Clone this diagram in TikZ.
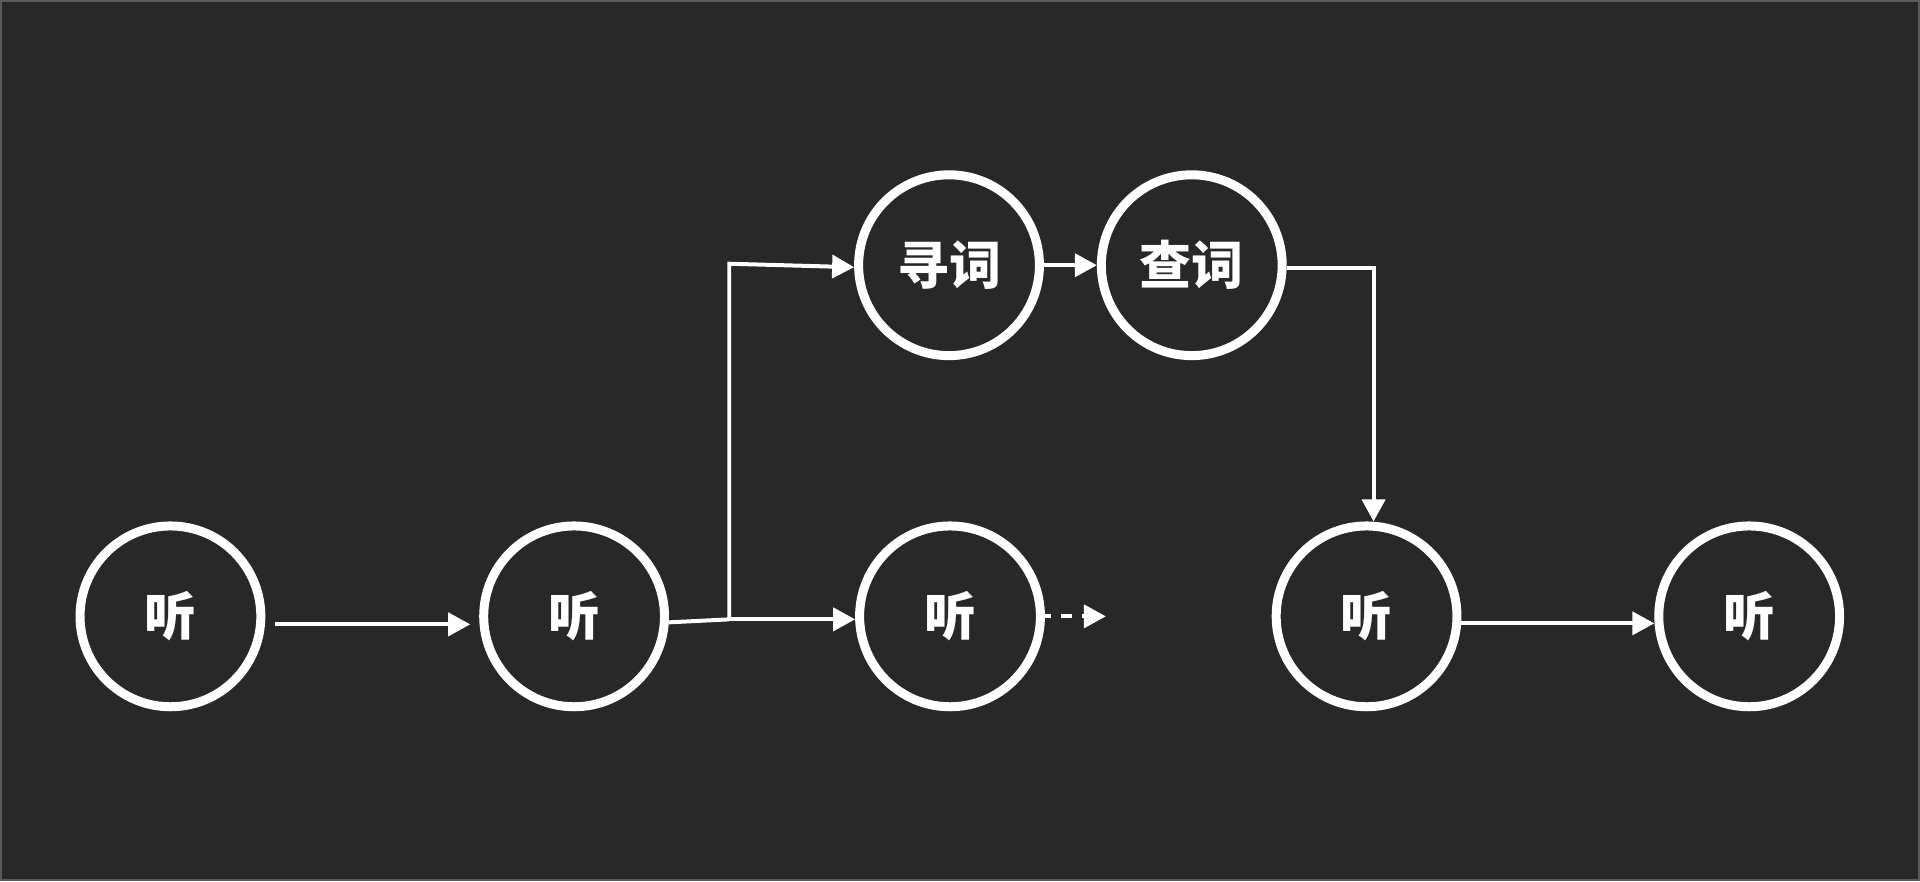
\documentclass[tikz,border=0pt]{standalone}
\usepackage{fontspec}
\newfontfamily\cjk{Noto Sans CJK SC}
\usetikzlibrary{arrows.meta}
\definecolor{bg}{HTML}{282828}
\definecolor{frame}{HTML}{5A5A5A}
\tikzset{
  state/.style={circle, draw=white, line width=9pt, minimum size=181pt, inner sep=0pt,
    text=white, font=\cjk\bfseries\fontsize{52}{60}\selectfont},
  conn/.style={draw=white, line width=4pt},
  arr/.style={conn, -{Triangle[length=22pt,width=23pt]}},
  dotted arr/.style={arr, dash pattern=on 11pt off 10pt, dash phase=5pt}
}
\begin{document}
\begin{tikzpicture}[x=1pt,y=-1pt]
  \fill[bg] (0,0) rectangle (1920,880);
  \draw[frame, line width=2pt] (0,0) rectangle (1920,880);
  \useasboundingbox (0,0) rectangle (1920,880);

  \node[state] (l1) at (169.6,616) {听};
  \node[state] (l2) at (573.7,616) {听};
  \node[state] (l3) at (950,616) {听};
  \node[state] (l4) at (1367,616) {听};
  \node[state] (l5) at (1750,616) {听};
  \node[state] (s1) at (949,264.5) {寻词};
  \node[state] (s2) at (1192,264.5) {查词};

  \coordinate (j) at (729,619);
  \coordinate (jt) at (729,263);
  \coordinate (dend) at (1106,616);

  \draw[arr] ([xshift=10pt,yshift=-8pt]l1.east) -- ([xshift=-9pt,yshift=-8pt]l2.west);
  \draw[conn] ([yshift=-6pt]l2.east) -- (j);
  \draw[arr] (j) -- ([yshift=-3pt]l3.west);
  \draw[arr] (j) -- (jt) -- ([yshift=-2pt]s1.west);
  \draw[arr] (s1.east) -- (s2.west);
  \draw[arr] ([yshift=-3pt]s2.east) -| ([xshift=7pt]l4.north);
  \draw[dotted arr] (l3.east) -- (dend);
  \draw[arr] ([yshift=-7pt]l4.east) -- ([yshift=-7pt]l5.west);
\end{tikzpicture}
\end{document}
